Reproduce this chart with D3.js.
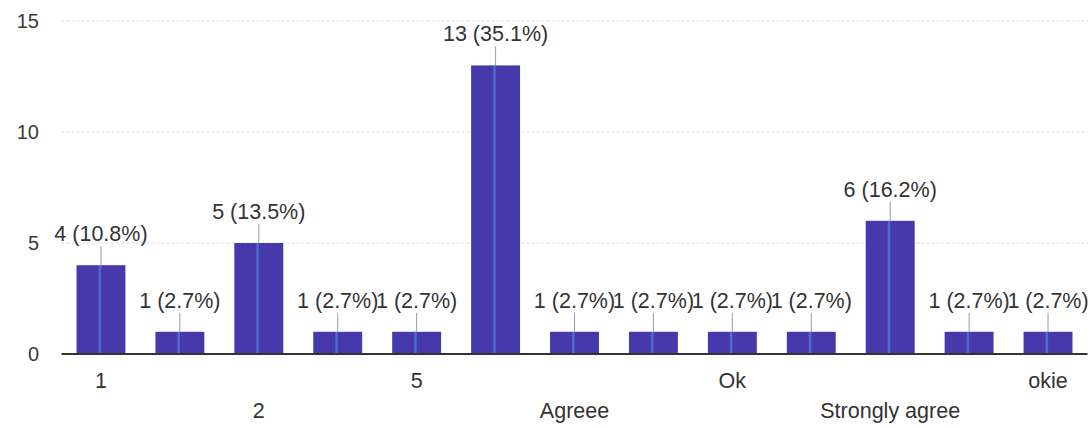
<!DOCTYPE html>
<html>
<head>
<meta charset="utf-8">
<script src="https://cdn.jsdelivr.net/npm/d3@7"></script>
<style>
  html, body { margin: 0; padding: 0; background: #ffffff; }
  svg { display: block; }
  text { font-family: "Liberation Sans", Arial, sans-serif; }
</style>
</head>
<body>
<svg id="chart" width="1092" height="428"></svg>
<script>
// Data (hidden category names are not readable in the reference; Google Forms skips every other label)
const categories = ["1", "1.5", "2", "4", "5", "Agree", "Agreee", "Disagree", "Ok", "Okay", "Strongly agree", "good", "okie"];
const counts     = [4, 1, 5, 1, 1, 13, 1, 1, 1, 1, 6, 1, 1];
const percents   = ["10.8%", "2.7%", "13.5%", "2.7%", "2.7%", "35.1%", "2.7%", "2.7%", "2.7%", "2.7%", "16.2%", "2.7%", "2.7%"];
const shownTicks = ["1", "2", "5", "Agreee", "Ok", "Strongly agree", "okie"];
const yTicks     = [0, 5, 10, 15];

const svg = d3.select("#chart");
const plotLeft = 61.5, plotRight = 1087.5, plotTop = 21, plotBottom = 354;

const x = d3.scaleBand().domain(categories).range([plotLeft, plotRight]).paddingInner(0.38).paddingOuter(0.19);
const y = d3.scaleLinear().domain([0, 15]).range([plotBottom, plotTop]);

// gridlines
svg.append("g").selectAll("line").data(yTicks.filter(d => d > 0)).join("line")
  .attr("x1", plotLeft).attr("x2", plotRight)
  .attr("y1", d => y(d)).attr("y2", d => y(d))
  .attr("stroke", "#dcdce4").attr("stroke-width", 1).attr("stroke-dasharray", "3,2");

// y axis labels
const yAxis = d3.axisLeft(y).tickValues(yTicks).tickSize(0).tickPadding(0);
const gy = svg.append("g").attr("transform", "translate(39,0)").call(yAxis);
gy.select(".domain").remove();
gy.selectAll("text").attr("font-size", 20).attr("fill", "#3a3a3a")
  .attr("font-family", "'Liberation Sans', Arial, sans-serif");

// bars
const bars = svg.append("g");
bars.selectAll("rect.bar").data(categories).join("rect")
  .attr("class", "bar")
  .attr("x", d => x(d)).attr("width", x.bandwidth())
  .attr("y", (d, i) => y(counts[i])).attr("height", (d, i) => y(0) - y(counts[i]))
  .attr("fill", "#4739ab");
// light scan stripe
bars.selectAll("rect.stripe").data(categories).join("rect")
  .attr("class", "stripe")
  .attr("x", d => x(d) + x.bandwidth() * 0.45).attr("width", 2.5)
  .attr("y", (d, i) => y(counts[i])).attr("height", (d, i) => y(0) - y(counts[i]))
  .attr("fill", "#4f78d6").attr("opacity", 0.8);

// leader lines
svg.append("g").selectAll("line").data(categories).join("line")
  .attr("x1", d => x(d) + x.bandwidth() / 2).attr("x2", d => x(d) + x.bandwidth() / 2)
  .attr("y1", (d, i) => y(counts[i])).attr("y2", (d, i) => y(counts[i]) - 19)
  .attr("stroke", "#9a9aa8").attr("stroke-width", 1);

// value labels
svg.append("g").selectAll("text").data(categories).join("text")
  .attr("x", d => x(d) + x.bandwidth() / 2)
  .attr("y", (d, i) => y(counts[i]) - 24)
  .attr("text-anchor", "middle").attr("font-size", 21.5).attr("fill", "#333")
  .text((d, i) => `${counts[i]} (${percents[i]})`);

// baseline
svg.append("line").attr("x1", plotLeft).attr("x2", plotRight)
  .attr("y1", y(0)).attr("y2", y(0))
  .attr("stroke", "#333").attr("stroke-width", 2);

// x axis labels (alternating rows)
const xAxis = d3.axisBottom(x).tickSize(0).tickPadding(0)
  .tickFormat(d => shownTicks.includes(d) ? d : "");
const gx = svg.append("g").attr("transform", `translate(0,${y(0)})`).call(xAxis);
gx.select(".domain").remove();
gx.selectAll("text")
  .attr("font-size", 21.5).attr("fill", "#333")
  .attr("font-family", "'Liberation Sans', Arial, sans-serif")
  .attr("dy", null)
  .attr("y", d => shownTicks.indexOf(d) % 2 === 0 ? 34 : 64);
</script>
</body>
</html>
